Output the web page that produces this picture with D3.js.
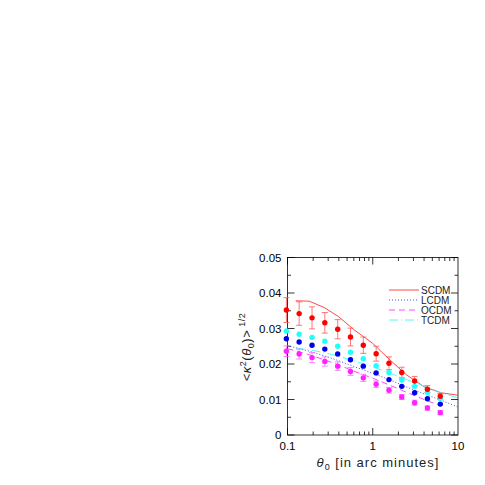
<!DOCTYPE html>
<html><head><meta charset="utf-8">
<script src="https://cdn.jsdelivr.net/npm/d3@7"></script>
<style>body{margin:0;background:#fff}svg{font-family:"Liberation Sans",Arial,sans-serif}</style>
</head><body>
<svg id="c" width="485" height="485"></svg>
<script>
const theta = [0.097, 0.137, 0.194, 0.274, 0.388, 0.548, 0.775, 1.096, 1.55, 2.19, 3.1, 4.38, 6.2];
const scdmPts = [35.2, 34.2, 33.0, 31.6, 29.8, 27.6, 25.3, 22.9, 20.2, 17.6, 15.2, 12.9, 10.9];
const scdmErr = [3.5, 3.3, 3.1, 2.9, 2.7, 2.5, 2.3, 2.1, 1.8, 1.5, 1.3, 1.0, 0.8];
const tcdmPts = [29.3, 28.4, 27.5, 26.4, 25.0, 23.3, 21.5, 19.5, 17.6, 15.5, 13.7, 12.0, 10.3];
const lcdmPts = [27.1, 26.2, 25.3, 24.2, 22.8, 21.2, 19.4, 17.5, 15.6, 13.7, 11.9, 10.2, 8.7];
const ocdmPts = [23.6, 22.8, 21.8, 20.7, 19.4, 17.9, 16.1, 14.3, 12.6, 10.7, 9.1, 7.6, 6.3];
const ocdmErr = [1.5, 1.4, 1.4, 1.3, 1.2, 1.1, 1.0, 0.9, 0.8, 0.7, 0.7, 0.6, 0.6];

const lineX = [0.1, 0.125, 0.18, 0.27, 0.4, 0.6, 1, 1.6, 2.5, 4, 6.3, 10];
const scdmLine = [null, 37.8, 37.7, 35.9, 33.3, 29.7, 25.8, 21.1, 16.9, 13.6, 11.9, 11.2];
const lcdmLine = [25.2, 24.6, 23.6, 22.3, 20.9, 19.3, 17.4, 15.5, 13.5, 11.6, 9.8, 7.9];
const ocdmLine = [24.3, 23.7, 22.6, 21.2, 19.7, 18.0, 16.0, 14.0, 12.0, 10.0, 8.2, null];
const tcdmLine = [null, 24.5, 24.0, 23.2, 22.2, 20.9, 19.2, 17.4, 15.6, 13.8, 12.0, 10.4];

const xTicks = [0.1, 1, 10];
const yTicks = [0, 0.01, 0.02, 0.03, 0.04, 0.05];

const svg = d3.select("#c");
const L = 287.5, R = 458, T = 257.5, B = 435;
const x = d3.scaleLog().domain([0.1, 10]).range([L, R]);
const y = d3.scaleLinear().domain([0, 0.05]).range([B, T]);
const k = v => v / 1000;

svg.append("rect").attr("x", L).attr("y", T).attr("width", R - L).attr("height", B - T)
  .attr("fill", "none").attr("stroke", "#000").attr("stroke-width", 0.8);

// ticks
const g = svg.append("g").attr("stroke", "#000").attr("stroke-width", 0.8);
const minorX = [];
[0.1, 1].forEach(d => { for (let i = 1; i < 10; i++) minorX.push(d * i); });
minorX.forEach(v => {
  const len = xTicks.includes(v) ? 7 : 3.5;
  g.append("line").attr("x1", x(v)).attr("x2", x(v)).attr("y1", B).attr("y2", B - len);
  g.append("line").attr("x1", x(v)).attr("x2", x(v)).attr("y1", T).attr("y2", T + len);
});
d3.range(0, 0.0501, 0.005).forEach((v, i) => {
  const len = i % 2 === 0 ? 7 : 3.5;
  g.append("line").attr("x1", L).attr("x2", L + len).attr("y1", y(v)).attr("y2", y(v));
  g.append("line").attr("x1", R).attr("x2", R - len).attr("y1", y(v)).attr("y2", y(v));
});
svg.selectAll(".xt").data(xTicks).join("text").attr("x", d => x(d)).attr("y", B + 15)
  .attr("text-anchor", "middle").attr("font-size", 11.5).text(d => d);
svg.selectAll(".yt").data(yTicks).join("text").attr("x", L - 6).attr("y", d => y(d) + 4)
  .attr("text-anchor", "end").attr("font-size", 11.5).text(d => d === 0 ? "0" : d.toFixed(2));

// axis labels
const xl = svg.append("text").attr("x", 378).attr("y", 467).attr("text-anchor", "middle")
  .attr("font-size", 13).attr("letter-spacing", 1).attr("fill", "#222");
xl.append("tspan").attr("font-style", "italic").text("θ");
xl.append("tspan").attr("font-size", 9).attr("dy", 3).text("0");
xl.append("tspan").attr("dy", -3).text(" [in arc minutes]");
const yl = svg.append("text").attr("transform", "translate(251,347) rotate(-90)")
  .attr("text-anchor", "middle").attr("font-size", 13).attr("letter-spacing", 0.5).attr("fill", "#222");
yl.append("tspan").text("<");
yl.append("tspan").attr("font-style", "italic").text("κ");
yl.append("tspan").attr("font-size", 9).attr("dy", -5).text("2");
yl.append("tspan").attr("dy", 5).text("(");
yl.append("tspan").attr("font-style", "italic").text("θ");
yl.append("tspan").attr("font-size", 9).attr("dy", 3).text("0");
yl.append("tspan").attr("dy", -3).text(")>");
yl.append("tspan").attr("font-size", 9).attr("dy", -6).text(" 1/2");

// model lines
const models = [
  {name: "SCDM", vals: scdmLine, color: "#f33", dash: null},
  {name: "LCDM", vals: lcdmLine, color: "#33f", dash: "1,2"},
  {name: "OCDM", vals: ocdmLine, color: "#f3f", dash: "6,4"},
  {name: "TCDM", vals: tcdmLine, color: "#3ff", dash: "9,3,1,3"}
];
const line = d3.line().defined(d => d[1] !== null).x(d => x(d[0])).y(d => y(k(d[1])));
models.forEach(m => {
  svg.append("path").datum(lineX.map((t, i) => [t, m.vals[i]])).attr("d", line)
    .attr("fill", "none").attr("stroke", m.color).attr("stroke-width", 0.9)
    .attr("stroke-dasharray", m.dash);
});

// error bars
function errs(vals, err, color) {
  theta.forEach((t, i) => {
    const cx = x(t), y1 = y(k(vals[i] + err[i])), y2 = y(k(vals[i] - err[i]));
    svg.append("line").attr("x1", cx).attr("x2", cx).attr("y1", y1).attr("y2", y2).attr("stroke", color).attr("stroke-width", 0.8);
    [y1, y2].forEach(yy => svg.append("line").attr("x1", cx - 3).attr("x2", cx + 3).attr("y1", yy).attr("y2", yy).attr("stroke", color).attr("stroke-width", 0.8));
  });
}
errs(scdmPts, scdmErr, "#f55");
errs(ocdmPts, ocdmErr, "#f6f");

// points
[[tcdmPts, "#2ff"], [lcdmPts, "#00e"], [ocdmPts, "#f2f"], [scdmPts, "#f00"]].forEach(([vals, c]) => {
  svg.append("g").selectAll("circle").data(vals).join("circle")
    .attr("cx", (d, i) => x(theta[i])).attr("cy", d => y(k(d))).attr("r", 2.7).attr("fill", c);
});

// legend
models.forEach((m, i) => {
  const yy = 290 + i * 10;
  svg.append("line").attr("x1", 389).attr("x2", 419).attr("y1", yy).attr("y2", yy)
    .attr("stroke", m.color).attr("stroke-width", 0.9).attr("stroke-dasharray", m.dash);
  svg.append("text").attr("x", 421).attr("y", yy + 3.5).attr("font-size", 10).attr("fill", "#222").text(m.name);
});
</script>
</body></html>
